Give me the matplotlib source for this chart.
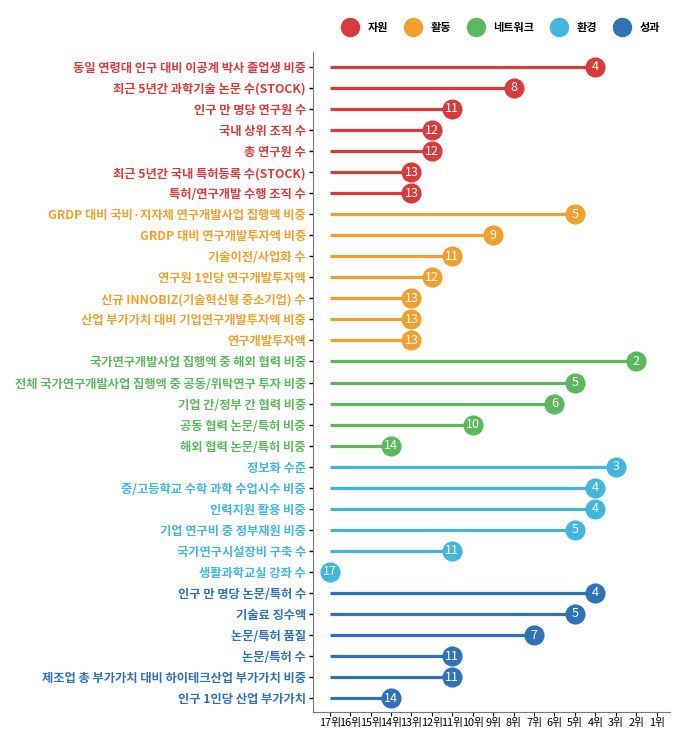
import numpy as np
import matplotlib
matplotlib.use("Agg")
import matplotlib.pyplot as plt
from matplotlib.lines import Line2D

plt.rcParams['font.family'] = ['Noto Sans CJK KR', 'DejaVu Sans']

# categories and their colours
groups = ["자원", "활동", "네트워크", "환경", "성과"]
colors = ["#d83b3b", "#f0a02f", "#5cb85c", "#42b6dc", "#2f72b8"]

# indicators per group, with regional rank
labels_res = ["동일 연령대 인구 대비 이공계 박사 졸업생 비중", "최근 5년간 과학기술 논문 수(STOCK)",
              "인구 만 명당 연구원 수", "국내 상위 조직 수", "총 연구원 수",
              "최근 5년간 국내 특허등록 수(STOCK)", "특허/연구개발 수행 조직 수"]
ranks_res = [4, 8, 11, 12, 12, 13, 13]

labels_act = ["GRDP 대비 국비·지자체 연구개발사업 집행액 비중", "GRDP 대비 연구개발투자액 비중",
              "기술이전/사업화 수", "연구원 1인당 연구개발투자액",
              "신규 INNOBIZ(기술혁신형 중소기업) 수", "산업 부가가치 대비 기업연구개발투자액 비중",
              "연구개발투자액"]
ranks_act = [5, 9, 11, 12, 13, 13, 13]

labels_net = ["국가연구개발사업 집행액 중 해외 협력 비중", "전체 국가연구개발사업 집행액 중 공동/위탁연구 투자 비중",
              "기업 간/정부 간 협력 비중", "공동 협력 논문/특허 비중", "해외 협력 논문/특허 비중"]
ranks_net = [2, 5, 6, 10, 14]

labels_env = ["정보화 수준", "중/고등학교 수학 과학 수업시수 비중", "인력지원 활용 비중",
              "기업 연구비 중 정부재원 비중", "국가연구시설장비 구축 수", "생활과학교실 강좌 수"]
ranks_env = [3, 4, 4, 5, 11, 17]

labels_out = ["인구 만 명당 논문/특허 수", "기술료 징수액", "논문/특허 품질", "논문/특허 수",
              "제조업 총 부가가치 대비 하이테크산업 부가가치 비중", "인구 1인당 산업 부가가치"]
ranks_out = [4, 5, 7, 11, 11, 14]

x_ticks = list(range(17, 0, -1))
x_ticklabels = [f"{r}위" for r in x_ticks]


def main():
    all_labels = [labels_res, labels_act, labels_net, labels_env, labels_out]
    all_ranks = [ranks_res, ranks_act, ranks_net, ranks_env, ranks_out]

    fig = plt.figure(figsize=(6.89, 7.32), dpi=100)
    ax = fig.add_axes([0.454, 0.027, 0.518, 0.902])

    names, name_colors = [], []
    y = 0
    for labels, ranks, c in zip(all_labels, all_ranks, colors):
        for lab, r in zip(labels, ranks):
            ax.plot([17, r], [y, y], color=c, lw=2.3, solid_capstyle='butt', zorder=2)
            ax.plot(r, y, 'o', color=c, ms=13.5, zorder=3)
            ax.text(r, y, str(r), color='white', ha='center', va='center',
                    fontsize=9, zorder=4)
            names.append(lab)
            name_colors.append(c)
            y += 1

    ax.set_xlim(17.83, 0.36)
    ax.set_ylim(len(names) - 1 + 0.67, -0.71)
    ax.set_yticks(range(len(names)))
    ax.set_yticklabels(names, fontsize=8.85, fontweight='bold')
    for t, c in zip(ax.get_yticklabels(), name_colors):
        t.set_color(c)
    ax.set_xticks(x_ticks)
    ax.set_xticklabels(x_ticklabels, fontsize=7.8)

    ax.spines['top'].set_visible(False)
    ax.spines['right'].set_visible(False)
    ax.spines['left'].set_color('#777777')
    ax.spines['bottom'].set_color('#777777')
    ax.tick_params(axis='y', length=3, width=1, pad=2)
    ax.tick_params(axis='x', length=3, width=0.8, pad=1)

    handles = [Line2D([], [], marker='o', ls='none', color=c, ms=13) for c in colors]
    fig.legend(handles, groups, loc='center', bbox_to_anchor=(0.725, 0.963), ncol=5,
               frameon=False, prop={'size': 8, 'weight': 'bold'},
               handletextpad=0.6, columnspacing=1.2)

    fig.savefig("out.png", dpi=100)


if __name__ == "__main__":
    main()
